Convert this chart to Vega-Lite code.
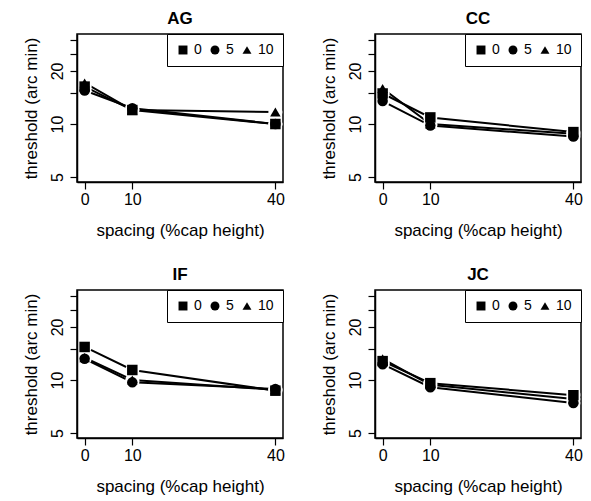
{
  "$schema": "https://vega.github.io/schema/vega-lite/v6.json",
  "padding": {"left": 21, "top": 8, "right": 5, "bottom": 5},
  "background": "white",
  "data": {"values": [
    {"subject": "AG", "level": "0", "spacing": 0, "threshold": 16.3},
    {"subject": "AG", "level": "0", "spacing": 10, "threshold": 12.0},
    {"subject": "AG", "level": "0", "spacing": 40, "threshold": 10.0},
    {"subject": "AG", "level": "5", "spacing": 0, "threshold": 15.5},
    {"subject": "AG", "level": "5", "spacing": 10, "threshold": 12.3},
    {"subject": "AG", "level": "5", "spacing": 40, "threshold": 10.0},
    {"subject": "AG", "level": "10", "spacing": 0, "threshold": 17.1},
    {"subject": "AG", "level": "10", "spacing": 10, "threshold": 12.0},
    {"subject": "AG", "level": "10", "spacing": 40, "threshold": 11.7},
    {"subject": "CC", "level": "0", "spacing": 0, "threshold": 14.9},
    {"subject": "CC", "level": "0", "spacing": 10, "threshold": 10.9},
    {"subject": "CC", "level": "0", "spacing": 40, "threshold": 9.0},
    {"subject": "CC", "level": "5", "spacing": 0, "threshold": 13.5},
    {"subject": "CC", "level": "5", "spacing": 10, "threshold": 9.8},
    {"subject": "CC", "level": "5", "spacing": 40, "threshold": 8.5},
    {"subject": "CC", "level": "10", "spacing": 0, "threshold": 15.9},
    {"subject": "CC", "level": "10", "spacing": 10, "threshold": 10.0},
    {"subject": "CC", "level": "10", "spacing": 40, "threshold": 8.8},
    {"subject": "IF", "level": "0", "spacing": 0, "threshold": 15.4},
    {"subject": "IF", "level": "0", "spacing": 10, "threshold": 11.4},
    {"subject": "IF", "level": "0", "spacing": 40, "threshold": 8.7},
    {"subject": "IF", "level": "5", "spacing": 0, "threshold": 13.2},
    {"subject": "IF", "level": "5", "spacing": 10, "threshold": 9.7},
    {"subject": "IF", "level": "5", "spacing": 40, "threshold": 8.9},
    {"subject": "IF", "level": "10", "spacing": 0, "threshold": 13.4},
    {"subject": "IF", "level": "10", "spacing": 10, "threshold": 10.0},
    {"subject": "IF", "level": "10", "spacing": 40, "threshold": 8.8},
    {"subject": "JC", "level": "0", "spacing": 0, "threshold": 12.8},
    {"subject": "JC", "level": "0", "spacing": 10, "threshold": 9.6},
    {"subject": "JC", "level": "0", "spacing": 40, "threshold": 8.2},
    {"subject": "JC", "level": "5", "spacing": 0, "threshold": 12.3},
    {"subject": "JC", "level": "5", "spacing": 10, "threshold": 9.1},
    {"subject": "JC", "level": "5", "spacing": 40, "threshold": 7.4},
    {"subject": "JC", "level": "10", "spacing": 0, "threshold": 13.2},
    {"subject": "JC", "level": "10", "spacing": 10, "threshold": 9.4},
    {"subject": "JC", "level": "10", "spacing": 40, "threshold": 7.8}
  ]},
  "columns": 2,
  "spacing": {"row": 25, "column": 33},
  "resolve": {"scale": {"shape": "independent"}, "legend": {"shape": "independent"}},
  "concat": [
    {
      "title": "AG",
      "width": 206, "height": 148,
      "transform": [{"filter": "datum.subject == 'AG'"}],
      "encoding": {
        "x": {"field": "spacing", "type": "quantitative", "scale": {"domain": [-1.6, 41.6], "nice": false, "zero": false}, "axis": {"values": [0, 10, 40], "title": "spacing (%cap height)", "zindex": 1}},
        "y": {"field": "threshold", "type": "quantitative", "scale": {"type": "log", "domain": [4.69, 32.4], "nice": false}, "axis": {"values": [5, 10, 15, 20, 25, 30], "labelExpr": "datum.value == 15 || datum.value > 20 ? '' : datum.label", "title": "threshold (arc min)", "zindex": 1}}
      },
      "layer": [
        {"mark": {"type": "line", "color": "black", "strokeWidth": 2}, "encoding": {"detail": {"field": "level"}}},
        {"mark": {"type": "point", "shape": "circle", "filled": true, "color": "white", "opacity": 1, "size": 200}, "encoding": {}},
        {"mark": {"type": "point", "filled": true, "color": "black", "opacity": 1, "size": 110}, "encoding": {"shape": {"field": "level", "type": "nominal", "scale": {"domain": ["0", "5", "10"], "range": ["square", "circle", "triangle-up"]}}}}
      ]
    },
    {
      "title": "CC",
      "width": 206, "height": 148,
      "transform": [{"filter": "datum.subject == 'CC'"}],
      "encoding": {
        "x": {"field": "spacing", "type": "quantitative", "scale": {"domain": [-1.6, 41.6], "nice": false, "zero": false}, "axis": {"values": [0, 10, 40], "title": "spacing (%cap height)", "zindex": 1}},
        "y": {"field": "threshold", "type": "quantitative", "scale": {"type": "log", "domain": [4.69, 32.4], "nice": false}, "axis": {"values": [5, 10, 15, 20, 25, 30], "labelExpr": "datum.value == 15 || datum.value > 20 ? '' : datum.label", "title": "threshold (arc min)", "zindex": 1}}
      },
      "layer": [
        {"mark": {"type": "line", "color": "black", "strokeWidth": 2}, "encoding": {"detail": {"field": "level"}}},
        {"mark": {"type": "point", "shape": "circle", "filled": true, "color": "white", "opacity": 1, "size": 200}, "encoding": {}},
        {"mark": {"type": "point", "filled": true, "color": "black", "opacity": 1, "size": 110}, "encoding": {"shape": {"field": "level", "type": "nominal", "scale": {"domain": ["0", "5", "10"], "range": ["square", "circle", "triangle-up"]}}}}
      ]
    },
    {
      "title": "IF",
      "width": 206, "height": 148,
      "transform": [{"filter": "datum.subject == 'IF'"}],
      "encoding": {
        "x": {"field": "spacing", "type": "quantitative", "scale": {"domain": [-1.6, 41.6], "nice": false, "zero": false}, "axis": {"values": [0, 10, 40], "title": "spacing (%cap height)", "zindex": 1}},
        "y": {"field": "threshold", "type": "quantitative", "scale": {"type": "log", "domain": [4.69, 32.4], "nice": false}, "axis": {"values": [5, 10, 15, 20, 25, 30], "labelExpr": "datum.value == 15 || datum.value > 20 ? '' : datum.label", "title": "threshold (arc min)", "zindex": 1}}
      },
      "layer": [
        {"mark": {"type": "line", "color": "black", "strokeWidth": 2}, "encoding": {"detail": {"field": "level"}}},
        {"mark": {"type": "point", "shape": "circle", "filled": true, "color": "white", "opacity": 1, "size": 200}, "encoding": {}},
        {"mark": {"type": "point", "filled": true, "color": "black", "opacity": 1, "size": 110}, "encoding": {"shape": {"field": "level", "type": "nominal", "scale": {"domain": ["0", "5", "10"], "range": ["square", "circle", "triangle-up"]}}}}
      ]
    },
    {
      "title": "JC",
      "width": 206, "height": 148,
      "transform": [{"filter": "datum.subject == 'JC'"}],
      "encoding": {
        "x": {"field": "spacing", "type": "quantitative", "scale": {"domain": [-1.6, 41.6], "nice": false, "zero": false}, "axis": {"values": [0, 10, 40], "title": "spacing (%cap height)", "zindex": 1}},
        "y": {"field": "threshold", "type": "quantitative", "scale": {"type": "log", "domain": [4.69, 32.4], "nice": false}, "axis": {"values": [5, 10, 15, 20, 25, 30], "labelExpr": "datum.value == 15 || datum.value > 20 ? '' : datum.label", "title": "threshold (arc min)", "zindex": 1}}
      },
      "layer": [
        {"mark": {"type": "line", "color": "black", "strokeWidth": 2}, "encoding": {"detail": {"field": "level"}}},
        {"mark": {"type": "point", "shape": "circle", "filled": true, "color": "white", "opacity": 1, "size": 200}, "encoding": {}},
        {"mark": {"type": "point", "filled": true, "color": "black", "opacity": 1, "size": 110}, "encoding": {"shape": {"field": "level", "type": "nominal", "scale": {"domain": ["0", "5", "10"], "range": ["square", "circle", "triangle-up"]}}}}
      ]
    }
  ],
  "config": {
    "font": "Liberation Sans",
    "view": {"stroke": "black", "strokeWidth": 1.5},
    "title": {"fontSize": 17, "fontWeight": "bold", "color": "black", "offset": 6, "anchor": "middle"},
    "axis": {
      "grid": false,
      "domain": true, "domainColor": "black", "domainWidth": 1.5,
      "ticks": true, "tickColor": "black", "tickWidth": 1.2, "tickSize": 7,
      "labelFont": "Liberation Sans", "labelFontSize": 16, "labelColor": "black", "labelPadding": 6,
      "titleFont": "Liberation Sans", "titleFontSize": 17, "titleFontWeight": "normal", "titleColor": "black", "titlePadding": 8
    },
    "axisX": {"labelPadding": 2, "titlePadding": 15},
    "axisY": {"labelAngle": -90, "labelAlign": "center", "labelBaseline": "bottom", "labelPadding": 5, "titlePadding": 9},
    "legend": {
      "orient": "top-right", "offset": 0, "direction": "horizontal", "title": null,
      "strokeColor": "black", "fillColor": "white", "padding": 9,
      "columnPadding": 6, "labelOffset": 4,
      "labelFont": "Liberation Sans", "labelFontSize": 14, "labelColor": "black",
      "symbolSize": 80, "symbolFillColor": "black", "symbolStrokeWidth": 0
    }
  }
}
